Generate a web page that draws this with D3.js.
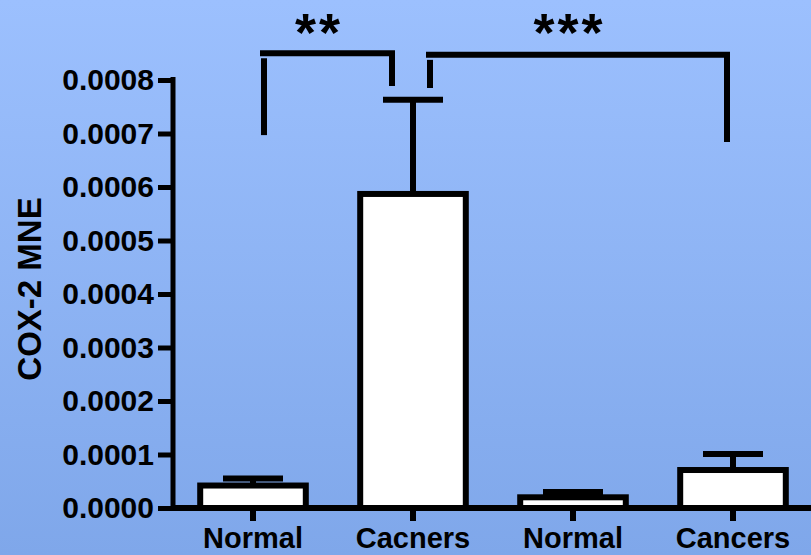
<!DOCTYPE html>
<html>
<head>
<meta charset="utf-8">
<script src="https://cdn.jsdelivr.net/npm/d3@7"></script>
<style>
  body { margin: 0; }
  svg { display: block; }
  text { font-family: "Liberation Sans", Arial, sans-serif; font-weight: bold; fill: #000; }
</style>
</head>
<body>
<div id="chart"></div>
<script>
// data
var categories = ["Normal", "Cacners", "Normal", "Cancers"];
var means = [0.000042, 0.000587, 0.000020, 0.000071];
var errors = [0.000013, 0.000176, 0.000010, 0.000030];
var yTicks = [0, 0.0001, 0.0002, 0.0003, 0.0004, 0.0005, 0.0006, 0.0007, 0.0008];
var yTitle = "COX-2 MNE";

// significance brackets: bar indices, label, top level and leg ends (data units)
var sigFrom = [0, 1];
var sigTo = [1, 3];
var sigLabels = ["**", "***"];
var sigTop = [0.00085, 0.000847];
var sigLeftEnd = [0.000697, 0.000785];
var sigRightEnd = [0.000789, 0.000684];

var W = 811, H = 555;

var svg = d3.select("#chart")
    .append("svg")
    .attr("width", W)
    .attr("height", H);

// background gradient
var grad = svg.append("defs").append("linearGradient")
    .attr("id", "bg")
    .attr("x1", 0).attr("y1", 0).attr("x2", 0).attr("y2", 1);
grad.append("stop").attr("offset", "0%").attr("stop-color", "#9cc0fe");
grad.append("stop").attr("offset", "100%").attr("stop-color", "#7fa7ea");
svg.append("rect").attr("width", W).attr("height", H).attr("fill", "url(#bg)");

var x = d3.scaleBand()
    .domain(d3.range(categories.length))
    .range([173, 813])
    .padding(0);

var y = d3.scaleLinear()
    .domain([0, 0.0008])
    .range([508, 80]);

var barW = x.bandwidth() * 0.66;
var cx = function (i) { return x(i) + x.bandwidth() / 2; };

// error bars (upper only)
var err = svg.append("g")
    .attr("stroke", "#000")
    .attr("stroke-width", 6);
means.forEach(function (m, i) {
    err.append("line")
        .attr("x1", cx(i)).attr("x2", cx(i))
        .attr("y1", y(m)).attr("y2", y(m + errors[i]));
    err.append("line")
        .attr("x1", cx(i) - 30).attr("x2", cx(i) + 30)
        .attr("y1", y(m + errors[i])).attr("y2", y(m + errors[i]));
});

// bars
svg.append("g")
    .selectAll("rect")
    .data(means)
    .enter()
    .append("rect")
    .attr("x", function (d, i) { return cx(i) - barW / 2; })
    .attr("y", function (d) { return y(d); })
    .attr("width", barW)
    .attr("height", function (d) { return y(0) - y(d); })
    .attr("fill", "#fff")
    .attr("stroke", "#000")
    .attr("stroke-width", 6);

// x axis
var xAxis = svg.append("g")
    .attr("transform", "translate(0," + y(0) + ")")
    .call(d3.axisBottom(x)
        .tickFormat(function (i) { return categories[i]; })
        .tickSize(13)
        .tickSizeOuter(0)
        .tickPadding(6));
xAxis.select(".domain").attr("stroke-width", 6).attr("d", "M171,0H811");
xAxis.selectAll(".tick line").attr("stroke-width", 6);
xAxis.selectAll(".tick text")
    .attr("font-size", 29)
    .attr("font-family", null);

// y axis
var yAxis = svg.append("g")
    .attr("transform", "translate(173,0)")
    .call(d3.axisLeft(y)
        .tickValues(yTicks)
        .tickFormat(d3.format(".4f"))
        .tickSize(15)
        .tickSizeOuter(0)
        .tickPadding(4));
yAxis.select(".domain").attr("stroke-width", 5).attr("d", "M0,77V511");
yAxis.selectAll(".tick line").attr("stroke-width", 5);
yAxis.selectAll(".tick text")
    .attr("font-size", 30)
    .attr("font-family", null);

// y title
svg.append("text")
    .attr("transform", "translate(41," + 289 + ") rotate(-90)")
    .attr("text-anchor", "middle")
    .attr("font-size", 33)
    .text(yTitle);

// significance brackets
var sig = svg.append("g");
sigLabels.forEach(function (lab, k) {
    var xl = cx(sigFrom[k]) + (k === 0 ? 11 : 17);
    var xr = cx(sigTo[k]) - (k === 0 ? 21 : 6);
    var yt = y(sigTop[k]);
    sig.append("path")
        .attr("d", "M" + (xl - 4) + "," + yt + "H" + xr + "V" + y(sigRightEnd[k]))
        .attr("fill", "none")
        .attr("stroke", "#000")
        .attr("stroke-width", 6);
    sig.append("line")
        .attr("x1", xl).attr("x2", xl)
        .attr("y1", yt + 5).attr("y2", y(sigLeftEnd[k]))
        .attr("stroke", "#000")
        .attr("stroke-width", 6);
    sig.append("text")
        .attr("x", (xl + xr) / 2 - 9)
        .attr("y", 51)
        .attr("text-anchor", "middle")
        .attr("font-size", 54)
        .attr("letter-spacing", 3)
        .text(lab);
});
</script>
</body>
</html>
